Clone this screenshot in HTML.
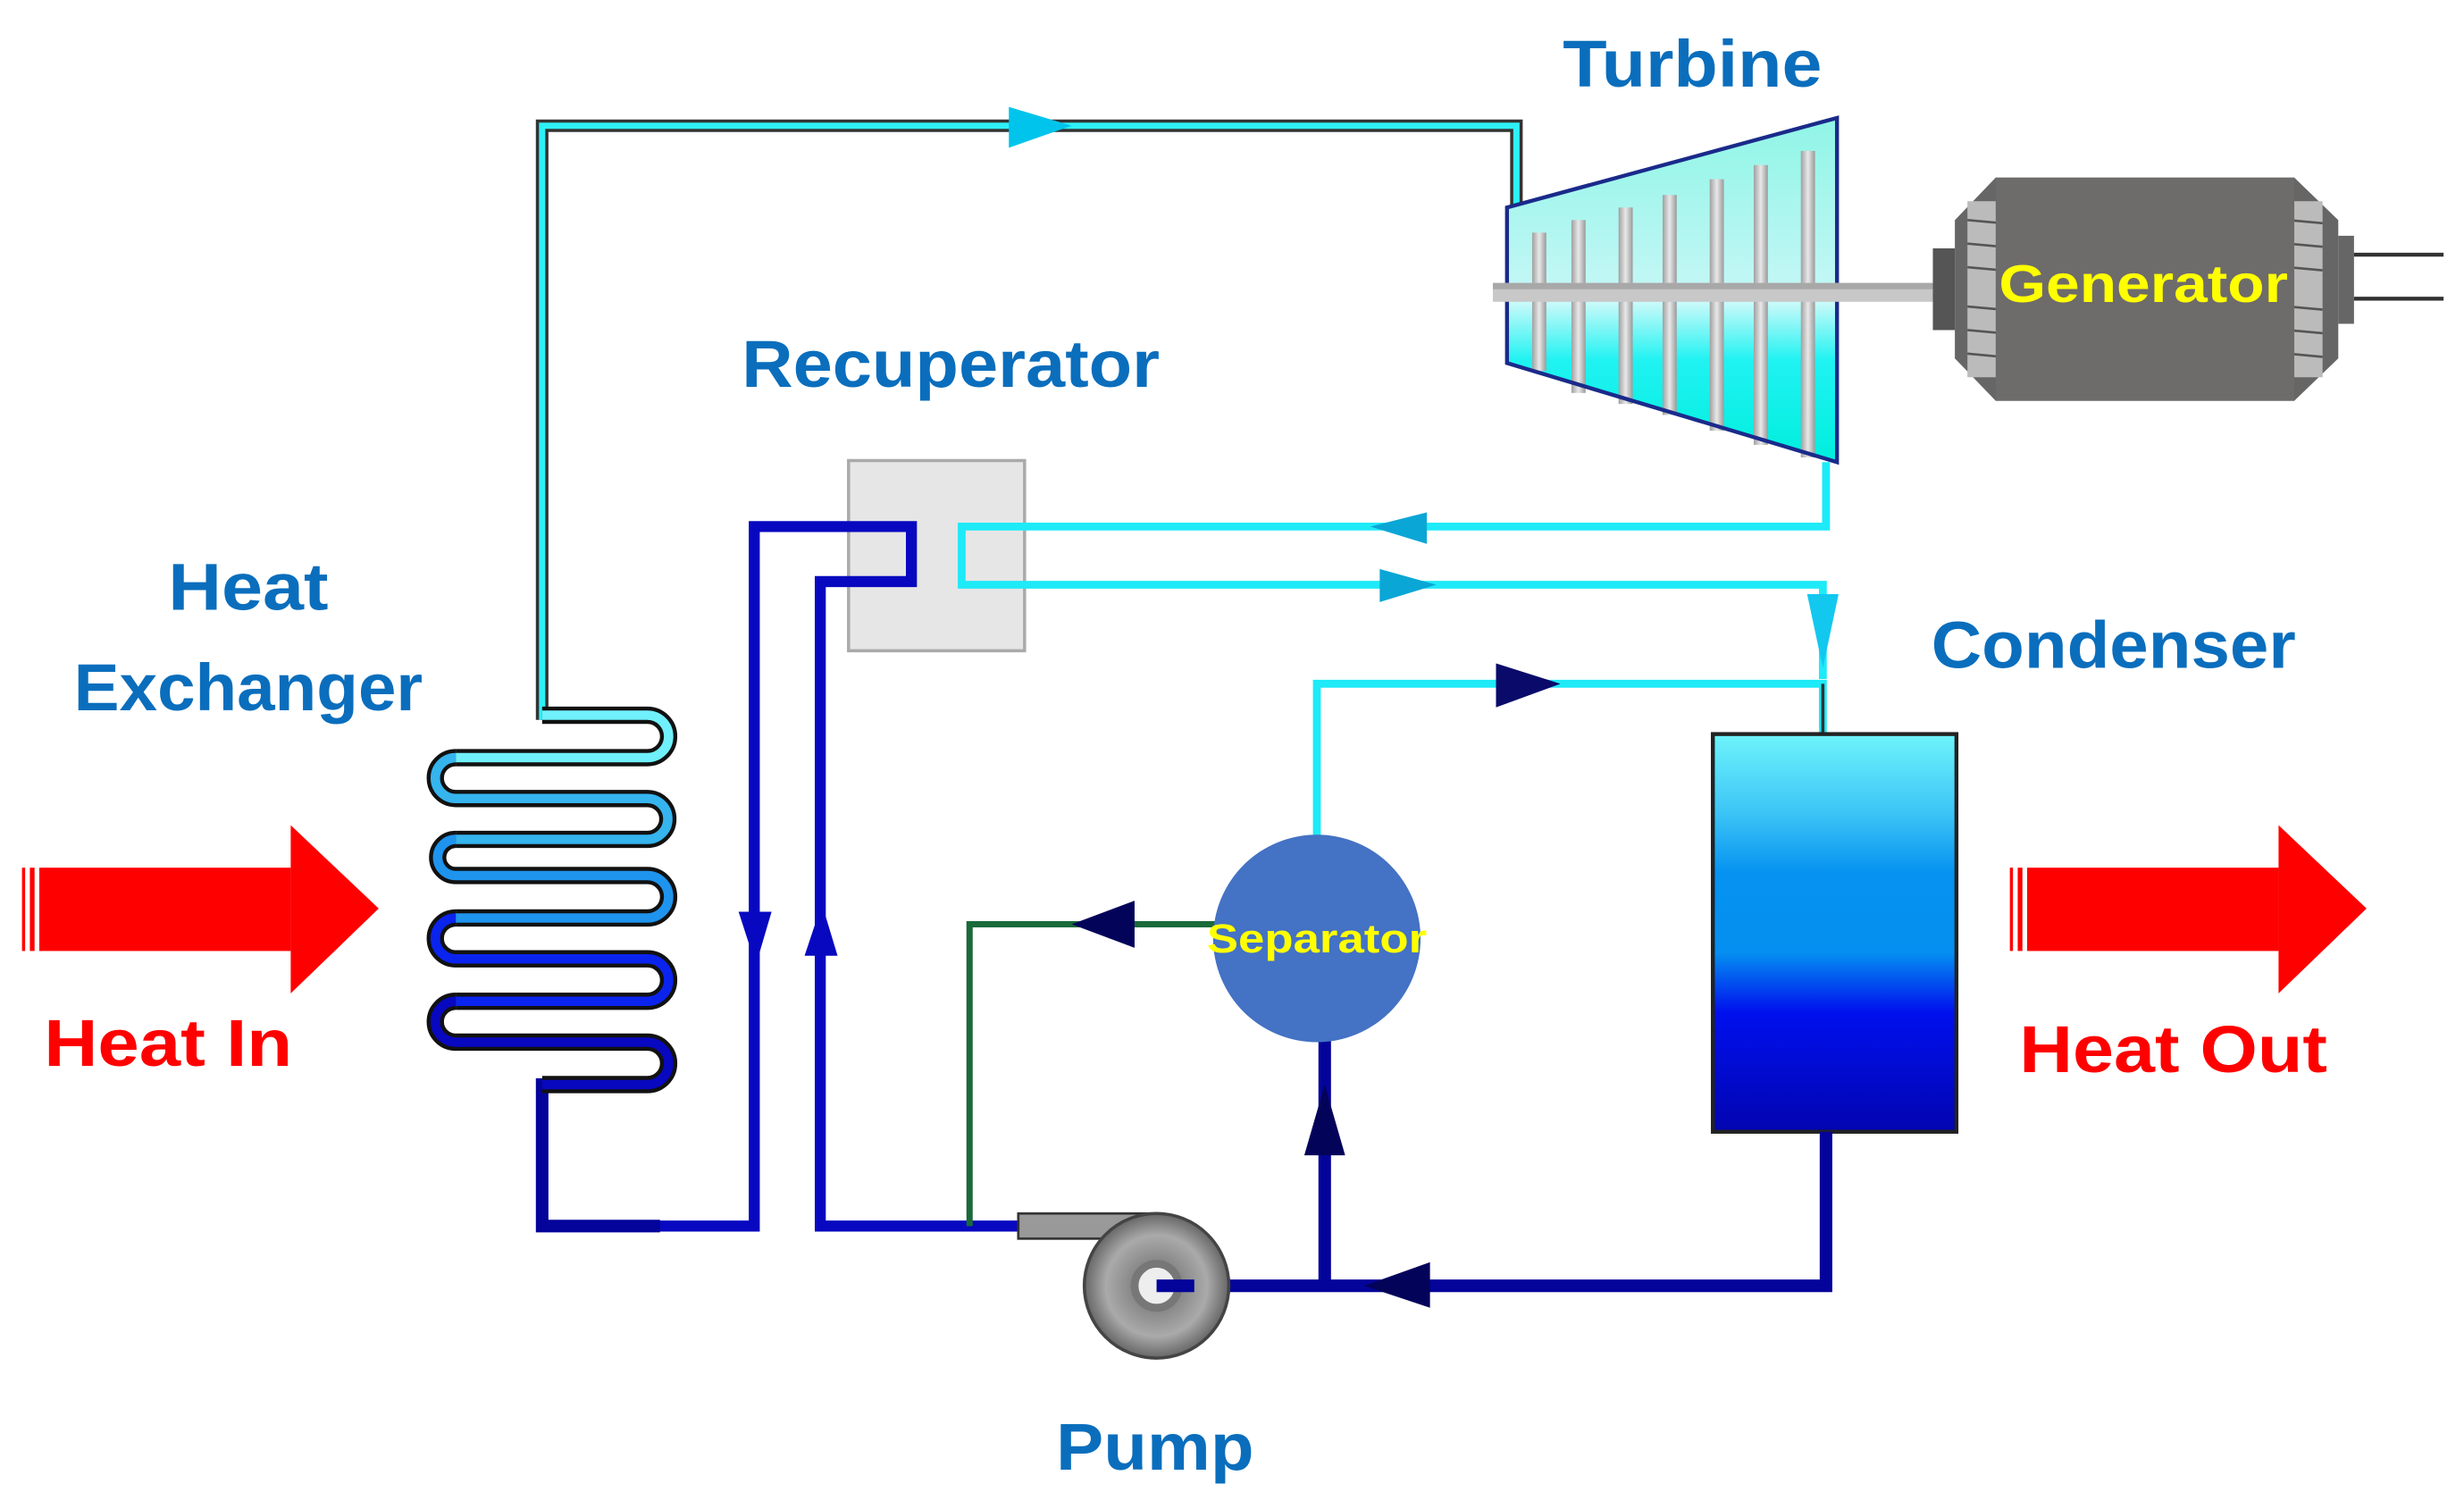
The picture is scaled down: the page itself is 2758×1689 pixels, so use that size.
<!DOCTYPE html>
<html><head><meta charset="utf-8"><style>
html,body{margin:0;padding:0;background:#fff;}
svg{display:block;}
text{font-family:"Liberation Sans Narrow","Liberation Sans",sans-serif;font-weight:bold;}
</style></head><body>
<svg width="2758" height="1689" viewBox="0 0 1568 960" preserveAspectRatio="none" xmlns="http://www.w3.org/2000/svg">
<defs>
<linearGradient id="cond" x1="0" y1="0" x2="0" y2="1">
<stop offset="0" stop-color="#6ef4fb"/><stop offset="0.2" stop-color="#3cc4f6"/><stop offset="0.35" stop-color="#0592f0"/><stop offset="0.55" stop-color="#058ff0"/><stop offset="0.7" stop-color="#0010ee"/><stop offset="1" stop-color="#0205b0"/>
</linearGradient>
<linearGradient id="turbTop" x1="0" y1="0" x2="0" y2="1">
<stop offset="0" stop-color="#8ff5e6"/><stop offset="1" stop-color="#c4f7f6"/>
</linearGradient>
<linearGradient id="turbBot" x1="0" y1="0" x2="0" y2="1">
<stop offset="0" stop-color="#e8fbfb"/><stop offset="0.4" stop-color="#20f2f2"/><stop offset="1" stop-color="#00eedd"/>
</linearGradient>
<linearGradient id="blade" x1="0" y1="0" x2="1" y2="0">
<stop offset="0" stop-color="#a0a0a0"/><stop offset="0.5" stop-color="#e8e8e8"/><stop offset="1" stop-color="#999"/>
</linearGradient>
<radialGradient id="pump" cx="0.5" cy="0.5" r="0.5">
<stop offset="0" stop-color="#ddd"/><stop offset="0.35" stop-color="#888"/><stop offset="0.7" stop-color="#aaa"/><stop offset="1" stop-color="#666"/>
</radialGradient>
</defs>

<text x="1077" y="55" fill="#0a6ebd" font-size="42" text-anchor="middle" textLength="165" lengthAdjust="spacingAndGlyphs">Turbine</text>
<text x="605" y="246" fill="#0a6ebd" font-size="42" text-anchor="middle" textLength="266" lengthAdjust="spacingAndGlyphs">Recuperator</text>
<text x="158" y="388" fill="#0a6ebd" font-size="42" text-anchor="middle" textLength="102" lengthAdjust="spacingAndGlyphs">Heat</text>
<text x="158" y="452" fill="#0a6ebd" font-size="42" text-anchor="middle" textLength="222" lengthAdjust="spacingAndGlyphs">Exchanger</text>
<text x="1345" y="425" fill="#0a6ebd" font-size="42" text-anchor="middle" textLength="232" lengthAdjust="spacingAndGlyphs">Condenser</text>
<text x="735" y="935" fill="#0a6ebd" font-size="42" text-anchor="middle" textLength="126" lengthAdjust="spacingAndGlyphs">Pump</text>
<text x="107" y="678" fill="#f00" font-size="42" text-anchor="middle" textLength="158" lengthAdjust="spacingAndGlyphs">Heat In</text>
<text x="1383" y="682" fill="#f00" font-size="42" text-anchor="middle" textLength="196" lengthAdjust="spacingAndGlyphs">Heat Out</text>

<g fill="#f00">
<rect x="14" y="552" width="2" height="53"/><rect x="19" y="552" width="3" height="53"/><rect x="25" y="552" width="160" height="53"/>
<polygon points="185,525 241,578 185,632"/>
<rect x="1279" y="552" width="2" height="53"/><rect x="1284" y="552" width="3" height="53"/><rect x="1290" y="552" width="160" height="53"/>
<polygon points="1450,525 1506,578 1450,632"/>
</g>

<path d="M345,458 V80 H965 V132" fill="none" stroke="#333" stroke-width="8"/>
<path d="M345,458 V80 H965 V132" fill="none" stroke="#2ef0f6" stroke-width="4"/>
<polygon points="642,68 682,80 642,94" fill="#00c4ec"/>

<rect x="540" y="293" width="112" height="121" fill="#e6e6e6" stroke="#aaa" stroke-width="2"/>

<polygon points="959,132 1169,75 1169,186 959,186" fill="url(#turbTop)"/>
<polygon points="959,186 1169,186 1169,294 959,231" fill="url(#turbBot)"/>
<g fill="url(#blade)">
<rect x="975" y="148" width="9" height="88"/><rect x="1000" y="140" width="9" height="110"/><rect x="1030" y="132" width="9" height="125"/>
<rect x="1058" y="124" width="9" height="140"/><rect x="1088" y="114" width="9" height="160"/><rect x="1116" y="105" width="9" height="178"/><rect x="1146" y="96" width="9" height="195"/>
</g>
<polygon points="959,132 1169,75 1169,294 959,231" fill="none" stroke="#1a2a8a" stroke-width="2.5"/>
<rect x="950" y="180" width="292" height="12" fill="#c8c8c8"/>
<rect x="950" y="180" width="292" height="4" fill="#a8a8a8"/>

<rect x="1230" y="158" width="14" height="52" fill="#555"/>
<polygon points="1244,140 1270,113 1460,113 1488,140 1488,228 1460,255 1270,255 1244,228" fill="#666"/>
<rect x="1252" y="128" width="22" height="112" fill="#bbb"/>
<rect x="1456" y="128" width="22" height="112" fill="#bbb"/>
<g stroke="#555" stroke-width="1.5">
<line x1="1252" y1="140" x2="1274" y2="142"/><line x1="1252" y1="155" x2="1274" y2="157"/><line x1="1252" y1="170" x2="1274" y2="172"/><line x1="1252" y1="195" x2="1274" y2="197"/><line x1="1252" y1="210" x2="1274" y2="212"/><line x1="1252" y1="225" x2="1274" y2="227"/>
<line x1="1456" y1="140" x2="1478" y2="142"/><line x1="1456" y1="155" x2="1478" y2="157"/><line x1="1456" y1="170" x2="1478" y2="172"/><line x1="1456" y1="195" x2="1478" y2="197"/><line x1="1456" y1="210" x2="1478" y2="212"/><line x1="1456" y1="225" x2="1478" y2="227"/>
</g>
<rect x="1270" y="113" width="190" height="142" fill="#6e6b6b"/>
<rect x="1488" y="150" width="10" height="56" fill="#666"/>
<line x1="1498" y1="162" x2="1555" y2="162" stroke="#333" stroke-width="2.5"/>
<line x1="1498" y1="190" x2="1555" y2="190" stroke="#333" stroke-width="2.5"/>
<text x="1364" y="192" fill="#ffff00" font-size="34" text-anchor="middle" textLength="184" lengthAdjust="spacingAndGlyphs">Generator</text>

<path d="M1162,294 V335 H612 V372 H1160 V432" fill="none" stroke="#1eeaf8" stroke-width="5"/>
<polygon points="908,326 872,335 908,346" fill="#0aa6d6"/>
<polygon points="878,362 914,372 878,383" fill="#0aa6d6"/>
<polygon points="1150,378 1170,378 1160,425" fill="#12c8ef"/>

<path d="M838,535 V435 H1160 V467" fill="none" stroke="#1eeaf8" stroke-width="5"/>
<line x1="1160" y1="435" x2="1160" y2="467" stroke="#333" stroke-width="2"/>
<polygon points="952,422 993,435 952,450" fill="#0a0a6a"/>

<rect x="1090" y="467" width="155" height="253" fill="url(#cond)" stroke="#222" stroke-width="2.5"/>

<path d="M418,780 H480 V335 H580 V370 H522 V780 H650" fill="none" stroke="#0808c0" stroke-width="7"/>
<polygon points="470,580 491,580 481,614" fill="#0808c0"/>
<polygon points="512,608 533,608 523,575" fill="#0808c0"/>

<path d="M412,690 H345 V780 H420" fill="none" stroke="#04049a" stroke-width="8"/>
<path d="M1162,720 V818 H735" fill="none" stroke="#04049a" stroke-width="8"/>
<path d="M843,818 V660" fill="none" stroke="#04049a" stroke-width="8"/>
<polygon points="830,735 856,735 843,690" fill="#03035a"/>
<polygon points="910,803 868,818 910,832" fill="#03035a"/>

<path d="M775,588 H617 V780" fill="none" stroke="#1a6a3a" stroke-width="4"/>
<polygon points="722,573 682,588 722,603" fill="#03035a"/>

<ellipse cx="838" cy="597" rx="66" ry="66" fill="#4472c4"/>
<text x="838" y="606" fill="#ffff00" font-size="26" text-anchor="middle" textLength="140" lengthAdjust="spacingAndGlyphs">Separator</text>

<rect x="648" y="772" width="92" height="16" fill="#999" stroke="#333" stroke-width="1.5"/>
<ellipse cx="736" cy="818" rx="46" ry="46" fill="url(#pump)" stroke="#444" stroke-width="2"/>
<circle cx="736" cy="818" r="14" fill="#eee" stroke="#777" stroke-width="5"/>
<line x1="736" y1="818" x2="760" y2="818" stroke="#04049a" stroke-width="8"/>

<g fill="none" stroke-linecap="butt">
<path d="M345,455 H412 A13.5,13.5 0 0 1 412,482 H290" stroke="#111" stroke-width="11"/>
<path d="M345,455 H412 A13.5,13.5 0 0 1 412,482 H290" stroke="#6ff0fa" stroke-width="6"/>
<path d="M290,482 A13,13 0 0 0 290,508 H412 A13,13 0 0 1 412,534 H290" stroke="#111" stroke-width="11"/>
<path d="M290,482 A13,13 0 0 0 290,508 H412 A13,13 0 0 1 412,534 H290" stroke="#35b4ee" stroke-width="6"/>
<path d="M290,534 A11.5,11.5 0 0 0 290,557 H412 A13.5,13.5 0 0 1 412,584 H290" stroke="#111" stroke-width="11"/>
<path d="M290,534 A11.5,11.5 0 0 0 290,557 H412 A13.5,13.5 0 0 1 412,584 H290" stroke="#1e94ee" stroke-width="6"/>
<path d="M290,584 A13,13 0 0 0 290,610 H412 A13.5,13.5 0 0 1 412,637 H290" stroke="#111" stroke-width="11"/>
<path d="M290,584 A13,13 0 0 0 290,610 H412 A13.5,13.5 0 0 1 412,637 H290" stroke="#0a24ee" stroke-width="6"/>
<path d="M290,637 A13,13 0 0 0 290,663 H412 A13.5,13.5 0 0 1 412,690 H345" stroke="#111" stroke-width="11"/>
<path d="M290,637 A13,13 0 0 0 290,663 H412 A13.5,13.5 0 0 1 412,690 H345" stroke="#0808c0" stroke-width="6"/>
</g>
</svg>
</body></html>
